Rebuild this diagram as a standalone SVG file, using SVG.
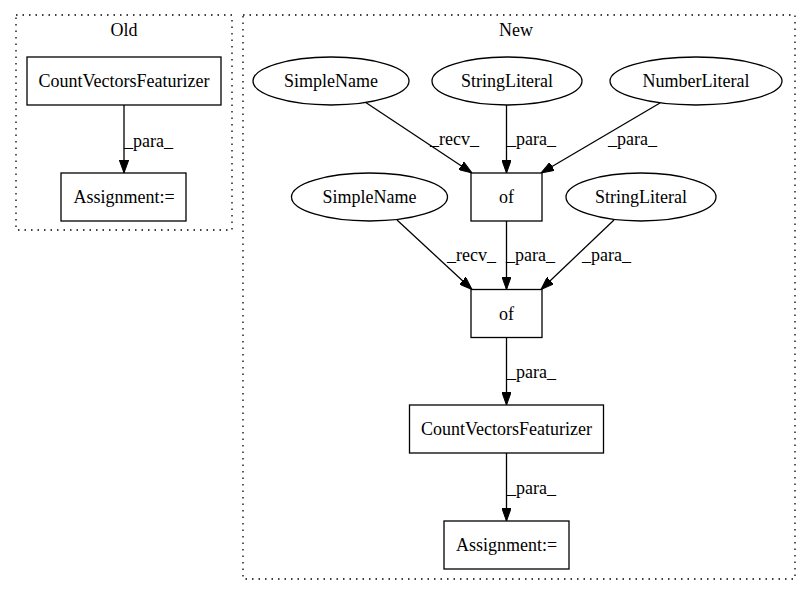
<svg xmlns="http://www.w3.org/2000/svg" width="803" height="596" viewBox="0 0 803 596">
<defs>
<style>
text{font-family:"Liberation Serif","Times New Roman",serif;font-size:18px;fill:#000}
.c{text-anchor:middle}
.cl{fill:none;stroke:#000;stroke-width:1.3;stroke-dasharray:1.5,5}
.n{fill:#fff;stroke:#000;stroke-width:1.3}
.e{fill:none;stroke:#000;stroke-width:1.3;marker-end:url(#ah)}
</style>
<marker id="ah" viewBox="0 0 13 9.4" refX="13" refY="4.7" markerWidth="13" markerHeight="9.4" markerUnits="userSpaceOnUse" orient="auto">
<path d="M0,0 L13,4.7 L0,9.4 z" fill="#000" stroke="#000" stroke-width="1"/>
</marker>
</defs>
<rect width="803" height="596" fill="#fff"/>
<g id="cluster_old">
<rect class="cl" x="16" y="15" width="216" height="215"/>
<text class="c" x="124" y="36">Old</text>
</g>
<g id="cluster_new">
<rect class="cl" x="243" y="15" width="552" height="564"/>
<text class="c" x="516" y="36">New</text>
</g>
<g id="connectors">
<path class="e" d="M124,105 L124,173"/>
<text x="124" y="147">_para_</text>
<path class="e" d="M365,102 L472,173"/>
<text x="430" y="145">_recv_</text>
<path class="e" d="M506.5,105 L506.5,173"/>
<text x="507" y="145">_para_</text>
<path class="e" d="M660,103 L541,173"/>
<text x="608" y="145">_para_</text>
<path class="e" d="M397,220 L472,289.5"/>
<text x="447" y="261">_recv_</text>
<path class="e" d="M506.5,221 L506.5,289.5"/>
<text x="506" y="261">_para_</text>
<path class="e" d="M614,220 L541,289.5"/>
<text x="582" y="261">_para_</text>
<path class="e" d="M506.5,337.5 L506.5,405"/>
<text x="507" y="378">_para_</text>
<path class="e" d="M506.5,453 L506.5,521"/>
<text x="507" y="494">_para_</text>
</g>
<g id="old_cvf">
<rect class="n" x="27" y="57" width="194" height="48"/>
<text class="c" x="124" y="87">CountVectorsFeaturizer</text>
</g>
<g id="old_assign">
<rect class="n" x="61" y="173" width="125" height="48"/>
<text class="c" x="124" y="203">Assignment:=</text>
</g>
<g id="simplename1">
<ellipse class="n" cx="331" cy="81" rx="78" ry="24"/>
<text class="c" x="331" y="87">SimpleName</text>
</g>
<g id="stringliteral1">
<ellipse class="n" cx="507" cy="81" rx="75" ry="24"/>
<text class="c" x="507" y="87">StringLiteral</text>
</g>
<g id="numberliteral">
<ellipse class="n" cx="696" cy="81" rx="86" ry="24"/>
<text class="c" x="696" y="87">NumberLiteral</text>
</g>
<g id="of1">
<rect class="n" x="471" y="173" width="71" height="48"/>
<text class="c" x="506.5" y="203">of</text>
</g>
<g id="simplename2">
<ellipse class="n" cx="369.5" cy="197" rx="78" ry="24"/>
<text class="c" x="369.5" y="203">SimpleName</text>
</g>
<g id="stringliteral2">
<ellipse class="n" cx="641" cy="197" rx="75" ry="24"/>
<text class="c" x="641" y="203">StringLiteral</text>
</g>
<g id="of2">
<rect class="n" x="471" y="289.5" width="71" height="48"/>
<text class="c" x="506.5" y="319.5">of</text>
</g>
<g id="new_cvf">
<rect class="n" x="409.5" y="405" width="194" height="48"/>
<text class="c" x="506.5" y="435">CountVectorsFeaturizer</text>
</g>
<g id="new_assign">
<rect class="n" x="444" y="521" width="125" height="48"/>
<text class="c" x="506.5" y="551">Assignment:=</text>
</g>
</svg>
